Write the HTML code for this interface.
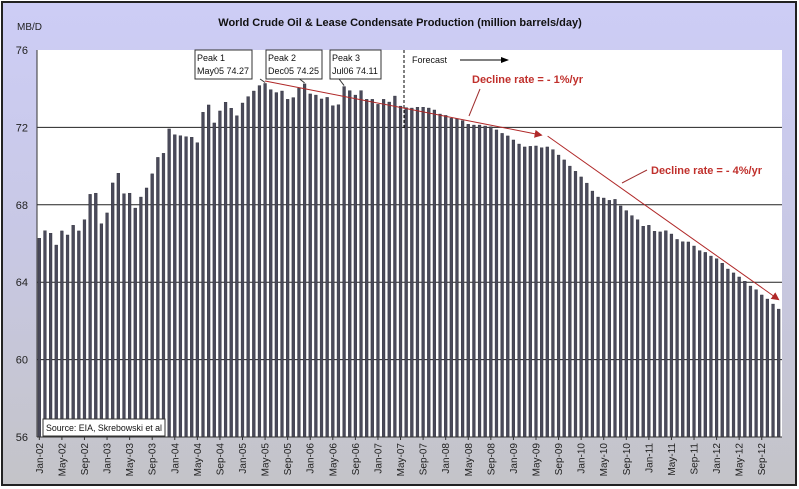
<!DOCTYPE html>
<html><head><meta charset="utf-8"><style>
html,body{margin:0;padding:0;background:#fff}
svg{display:block;font-family:"Liberation Sans",Arial,sans-serif}
</style></head><body>
<svg id="chart" width="799" height="489" viewBox="0 0 799 489">
<defs><linearGradient id="bg" x1="0" y1="0" x2="0" y2="1"><stop offset="0" stop-color="#cdcdf6"/><stop offset="0.5" stop-color="#c8c8e4"/><stop offset="1" stop-color="#c4c4c8"/></linearGradient>
<marker id="ah" markerWidth="8" markerHeight="8" refX="7" refY="4" orient="auto"><path d="M0,0 L8,4 L0,8 z" fill="#b02828"/></marker>
<marker id="ak" markerWidth="8" markerHeight="8" refX="7" refY="4" orient="auto"><path d="M0,1 L8,4 L0,7 z" fill="#000"/></marker></defs>
<rect x="2" y="2" width="794" height="483" fill="url(#bg)" stroke="#222" stroke-width="2"/>
<text x="400" y="26" text-anchor="middle" font-size="11" font-weight="bold" fill="#111">World Crude Oil &amp; Lease Condensate Production (million barrels/day)</text>
<text x="17" y="30" font-size="10" fill="#222">MB/D</text>
<rect x="37" y="50" width="745" height="387" fill="#fff"/>
<g id="grid"></g><g id="bars"></g><g id="xlabels"></g><g id="ylabels"></g>
<line x1="37" y1="50" x2="37" y2="437" stroke="#333"/>
<line x1="37" y1="437" x2="782" y2="437" stroke="#333"/>
<line x1="404" y1="50" x2="404" y2="128" stroke="#000" stroke-dasharray="3,2"/>
<text x="412" y="63" font-size="9" fill="#111">Forecast</text>
<line x1="460" y1="60" x2="508" y2="60" stroke="#000" marker-end="url(#ak)"/>
<g id="trend"></g>
<text x="472" y="83" font-size="11" font-weight="bold" fill="#c0302c">Decline rate = - 1%/yr</text>
<line x1="480" y1="89" x2="469" y2="116" stroke="#a03030"/>
<text x="651" y="174" font-size="11" font-weight="bold" fill="#c0302c">Decline rate = - 4%/yr</text>
<line x1="647" y1="170" x2="622" y2="183" stroke="#a03030"/>
<g id="peaks"></g>
<rect x="43" y="419" width="122" height="17" fill="#fff" stroke="#333"/>
<text x="46" y="431" font-size="9" textLength="116" lengthAdjust="spacingAndGlyphs" fill="#111">Source: EIA, Skrebowski et al</text>
</svg>
<script>
const values=[66.27,66.66,66.53,65.92,66.65,66.44,66.94,66.65,67.23,68.54,68.6,67.02,
67.58,69.13,69.63,68.57,68.6,67.83,68.4,68.87,69.6,70.45,70.66,71.92,
71.62,71.57,71.52,71.49,71.21,72.78,73.16,72.23,72.85,73.3,72.99,72.6,
73.26,73.59,73.88,74.16,74.27,73.95,73.8,73.88,73.45,73.54,74.02,74.25,
73.73,73.67,73.47,73.55,73.12,73.17,74.11,73.9,73.67,73.9,73.45,73.45,
73.19,73.45,73.31,73.62,73.1,73.02,73.0,73.04,73.04,73.0,72.9,72.69,
72.62,72.47,72.45,72.35,72.16,72.12,72.12,72.07,72.03,71.87,71.69,71.56,
71.35,71.14,70.99,71.02,71.04,70.95,70.99,70.85,70.57,70.32,70.0,69.73,
69.44,69.12,68.71,68.4,68.35,68.23,68.28,67.94,67.7,67.44,67.23,66.89,
66.94,66.63,66.6,66.66,66.49,66.21,66.09,66.08,65.87,65.63,65.54,65.35,
65.21,64.98,64.68,64.48,64.27,64.05,63.8,63.61,63.34,63.13,62.87,62.61];
const months=["Jan","Feb","Mar","Apr","May","Jun","Jul","Aug","Sep","Oct","Nov","Dec"];
const startYear=2002;
const yTicks=[56,60,64,68,72,76];
const peakLabels=["Peak 1","Peak 2","Peak 3"];
const peakTexts=["May05 74.27","Dec05 74.25","Jul06 74.11"];
const peakIndex=[40,47,54];
const trendStart=[40,74.4], trendMid=[89,71.6], trendEnd=[131,63.1];
const NS="http://www.w3.org/2000/svg";
const X0=37,X1=782,Y0=437,Y1=50,YMIN=56,YMAX=76;
const step=(X1-X0)/values.length;
const xs=i=>X0+step*(i+0.5)-0.5;
const ys=v=>Y0-(v-YMIN)/(YMAX-YMIN)*(Y0-Y1);
function mk(t,a,p){const e=document.createElementNS(NS,t);for(const k in a)e.setAttribute(k,a[k]);p.appendChild(e);return e;}
const grid=document.getElementById('grid'),yl=document.getElementById('ylabels');
yTicks.forEach(t=>{
 if(t>YMIN&&t<YMAX){const l=mk('line',{x1:X0,x2:X1,y1:ys(t),y2:ys(t),stroke:'#222','stroke-width':1},grid);
 
 }
 const tx=mk('text',{x:28,y:ys(t)+4,'text-anchor':'end','font-size':11,fill:'#222'},yl);tx.textContent=t;
 
 
});
const bars=document.getElementById('bars'),xl=document.getElementById('xlabels');
values.forEach((v,i)=>{
 const b=mk('rect',{x:xs(i)-1.4,y:ys(v),width:2.8,height:Y0-ys(v),fill:'#4a4a5a',stroke:'#2a2a36','stroke-width':0.4},bars);
 
 
 if(i%4===0){
  const lbl=months[i%12]+'-'+String((startYear+Math.floor(i/12))%100).padStart(2,'0');
  const x=xs(i)+3.5;
  const t=mk('text',{x:x,y:443,'text-anchor':'end','font-size':10,fill:'#222',transform:'rotate(-90 '+x+' 443)'},xl);
  t.textContent=lbl;
  
  
  mk('line',{x1:xs(i),x2:xs(i),y1:437,y2:440,stroke:'#333'},xl);
 }
});
const tr=document.getElementById('trend');
const l1=mk('line',{x1:xs(trendStart[0]),y1:ys(trendStart[1]),x2:xs(trendMid[0]),y2:ys(trendMid[1]),stroke:'#b02828','stroke-width':1,'marker-end':'url(#ah)'},tr);


const l2=mk('line',{x1:xs(trendMid[0])+6,y1:ys(trendMid[1])+1,x2:xs(trendEnd[0]),y2:ys(trendEnd[1]),stroke:'#b02828','stroke-width':1,'marker-end':'url(#ah)'},tr);


const pk=document.getElementById('peaks');
const boxX=[195,266,330],boxW=[57,56,51];
peakIndex.forEach((pi,k)=>{
 const r=mk('rect',{x:boxX[k],y:50,width:boxW[k],height:29,fill:'#fff',stroke:'#333'},pk);
 
 
 const t1=mk('text',{x:boxX[k]+2,y:61,'font-size':9,fill:'#111'},pk);t1.textContent=peakLabels[k];
 const t2=mk('text',{x:boxX[k]+2,y:74,'font-size':9,fill:'#111'},pk);t2.textContent=peakTexts[k];
 const ln=mk('line',{x1:xs(pi)-5,y1:79,x2:xs(pi),y2:ys(values[pi])-1,stroke:'#333'},pk);
 
 
});
</script>
</body></html>
